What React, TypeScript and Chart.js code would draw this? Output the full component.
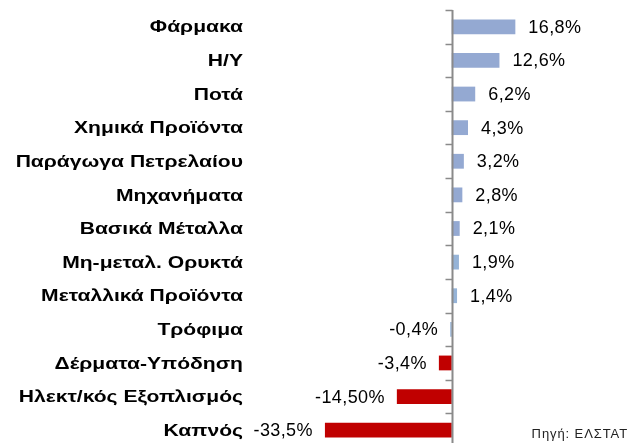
import React, { useEffect, useRef } from "react";
import { Chart, registerables } from "chart.js";

Chart.register(...registerables);

const categories = [
  "Φάρμακα",
  "Η/Υ",
  "Ποτά",
  "Χημικά Προϊόντα",
  "Παράγωγα Πετρελαίου",
  "Μηχανήματα",
  "Βασικά Μέταλλα",
  "Μη-μεταλ. Ορυκτά",
  "Μεταλλικά Προϊόντα",
  "Τρόφιμα",
  "Δέρματα-Υπόδηση",
  "Ηλεκτ/κός Εξοπλισμός",
  "Καπνός",
];

const values = [16.8, 12.6, 6.2, 4.3, 3.2, 2.8, 2.1, 1.9, 1.4, -0.4, -3.4, -14.5, -33.5];

const valueLabels = [
  "16,8%",
  "12,6%",
  "6,2%",
  "4,3%",
  "3,2%",
  "2,8%",
  "2,1%",
  "1,9%",
  "1,4%",
  "-0,4%",
  "-3,4%",
  "-14,50%",
  "-33,5%",
];

const barColors = [
  "#94A9D2", "#94A9D2", "#94A9D2", "#94A9D2", "#94A9D2", "#94A9D2", "#94A9D2",
  "#95B3D7", "#95B3D7", "#95B3D7",
  "#C00000", "#C00000", "#C00000",
];

const sourceText = "Πηγή: ΕΛΣΤΑΤ";

const FONT = "'Liberation Sans', Arial, sans-serif";

const overlayPlugin = {
  id: "overlay",
  afterDatasetsDraw(chart: any) {
    const { ctx, chartArea, scales } = chart;
    const xs = scales.x;
    const ys = scales.y;
    const x0 = Math.round(xs.getPixelForValue(0)) + 0.5;
    const n = categories.length;
    const h = (chartArea.bottom - chartArea.top) / n;
    ctx.save();
    // category labels (horizontally widened as in the reference)
    ctx.font = "bold 17px " + FONT;
    ctx.fillStyle = "#000";
    ctx.textAlign = "right";
    ctx.textBaseline = "middle";
    categories.forEach((c, i) => {
      const y = ys.getPixelForValue(i);
      ctx.save();
      ctx.translate(chartArea.left - 10, y + 1);
      ctx.scale(1.24, 1);
      ctx.fillText(c, 0, 0);
      ctx.restore();
    });
    // axis line and tick marks
    ctx.strokeStyle = "#8A8A8A";
    ctx.lineWidth = 2;
    ctx.beginPath();
    ctx.moveTo(x0, chartArea.top);
    ctx.lineTo(x0, chartArea.bottom);
    ctx.stroke();
    ctx.lineWidth = 1.5;
    for (let i = 0; i <= n; i++) {
      const y = Math.round(chartArea.top + i * h) + 0.5;
      ctx.beginPath();
      ctx.moveTo(x0 - 7, y);
      ctx.lineTo(x0, y);
      ctx.stroke();
    }
    // value labels
    const meta = chart.getDatasetMeta(0);
    ctx.font = "18px " + FONT;
    (ctx as any).letterSpacing = "0.4px";
    ctx.fillStyle = "#000";
    ctx.textBaseline = "middle";
    meta.data.forEach((el: any, i: number) => {
      const v = values[i];
      if (v >= 0) {
        ctx.textAlign = "left";
        ctx.fillText(valueLabels[i], el.x + 13, el.y + 1);
      } else {
        ctx.textAlign = "right";
        ctx.fillText(valueLabels[i], Math.min(el.x, x0 - 2) - 12, el.y + 1);
      }
    });
    ctx.font = "13px " + FONT;
    (ctx as any).letterSpacing = "0.9px";
    ctx.fillStyle = "#222";
    ctx.textAlign = "right";
    ctx.fillText(sourceText, 628, 434);
    ctx.restore();
  },
};

export default function App() {
  const ref = useRef<HTMLCanvasElement | null>(null);
  useEffect(() => {
    if (!ref.current) return;
    const chart = new Chart(ref.current, {
      type: "bar",
      data: {
        labels: categories,
        datasets: [
          {
            data: values,
            backgroundColor: barColors,
            borderWidth: 0,
            barPercentage: 0.44,
            categoryPercentage: 1,
          },
        ],
      },
      options: {
        indexAxis: "y",
        animation: false,
        responsive: false,
        maintainAspectRatio: false,
        layout: { padding: { top: 10, bottom: 0, left: 0, right: 0 } },
        plugins: { legend: { display: false }, tooltip: { enabled: false } },
        scales: {
          x: {
            display: false,
            min: -52.5,
            max: 49.2,
          },
          y: {
            position: "left",
            grid: { display: false, drawTicks: false },
            border: { display: false },
            afterFit: (s: any) => {
              s.width = 253;
              s.paddingTop = 0;
              s.paddingBottom = 0;
            },
            ticks: { display: false },
          },
        },
      },
      plugins: [overlayPlugin],
    });
    return () => chart.destroy();
  }, []);
  return (
    <div style={{ position: "absolute", left: 0, top: 0, width: 638, height: 443, overflow: "hidden", background: "#fff" }}>
      <canvas ref={ref} width={638} height={447} style={{ display: "block" }} />
    </div>
  );
}
